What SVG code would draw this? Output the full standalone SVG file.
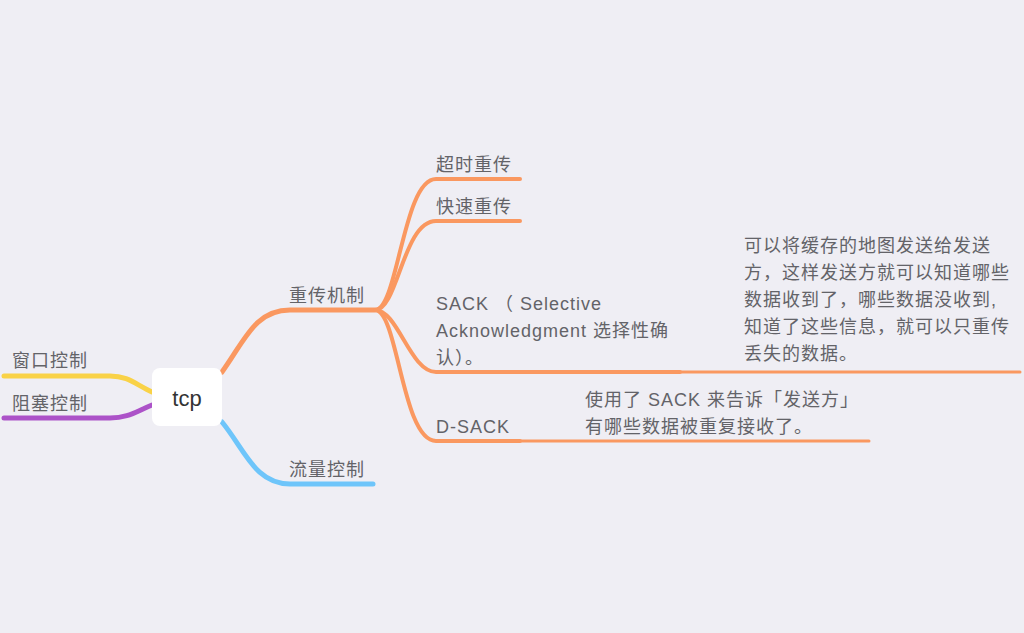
<svg xmlns="http://www.w3.org/2000/svg" width="1024" height="633" viewBox="0 0 1024 633">
<style>
.t{font-family:"Liberation Sans","Noto Sans CJK SC",sans-serif;font-size:18px;letter-spacing:1px;fill:#636368}
.c{fill:none;stroke-linecap:round}
.o{stroke:#FA9860}
</style>
<rect width="1024" height="633" fill="#EFEEF4"/>
<g id="connectors">
<path class="c" d="M152,392 C135,384 128,376 110,376 L4,376" stroke="#F9D247" stroke-width="5"/>
<path class="c" d="M152,405 C135,412 128,418 110,418 L4,418" stroke="#AC52C8" stroke-width="5"/>
<path class="c o" d="M222,372 C245,340 255,310 290,310 L375,310" stroke-width="5"/>
<path class="c" d="M222,422 C245,450 255,484 290,484 L373,484" stroke="#6EC5FA" stroke-width="5"/>
<path class="c o" d="M375,310 C398,310 403,179 436,179 L520,179" stroke-width="4"/>
<path class="c o" d="M375,310 C398,310 403,221 436,221 L520,221" stroke-width="4"/>
<path class="c o" d="M375,310 C398,310 410,372 436,372 L680,372" stroke-width="4"/>
<path class="c o" d="M375,310 C398,310 402,441 436,441 L520,441" stroke-width="4"/>
<path class="c o" d="M680,372 L1020,372" stroke-width="3"/>
<path class="c o" d="M520,441 L869,441" stroke-width="3"/>
</g>
<g id="tcp">
<rect x="152" y="368" width="70" height="58" rx="8" fill="#fff"/>
<text x="187" y="406" text-anchor="middle" font-family="Liberation Sans,sans-serif" font-size="22" fill="#333">tcp</text>
</g>
<g id="n-window"><text class="t" x="12" y="367">窗口控制</text></g>
<g id="n-congestion"><text class="t" x="12" y="410">阻塞控制</text></g>
<g id="n-retrans"><text class="t" x="289" y="302">重传机制</text></g>
<g id="n-flow"><text class="t" x="289" y="476">流量控制</text></g>
<g id="n-timeout"><text class="t" x="436" y="171">超时重传</text></g>
<g id="n-fast"><text class="t" x="436" y="213">快速重传</text></g>
<g id="n-sack">
<text class="t" x="436" y="310">SACK （ Selective</text>
<text class="t" x="436" y="337">Acknowledgment 选择性确</text>
<text class="t" x="436" y="364">认）。</text>
</g>
<g id="n-sack-note">
<text class="t" x="744" y="252">可以将缓存的地图发送给发送</text>
<text class="t" x="744" y="279">方，这样发送方就可以知道哪些</text>
<text class="t" x="744" y="306">数据收到了，哪些数据没收到,</text>
<text class="t" x="744" y="333">知道了这些信息，就可以只重传</text>
<text class="t" x="744" y="360">丢失的数据。</text>
</g>
<g id="n-dsack"><text class="t" x="436" y="433">D-SACK</text></g>
<g id="n-dsack-note">
<text class="t" x="585" y="406">使用了 SACK 来告诉「发送方」</text>
<text class="t" x="585" y="433">有哪些数据被重复接收了。</text>
</g>
</svg>
